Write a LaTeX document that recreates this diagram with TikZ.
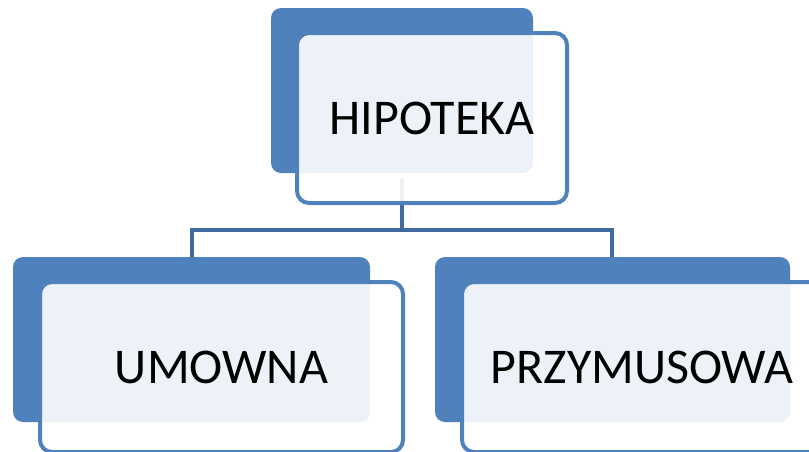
\documentclass[tikz,border=0pt]{standalone}
\usepackage{fontspec}
\setmainfont{Carlito}
\definecolor{accent}{RGB}{79,129,189}
\definecolor{linkc}{RGB}{64,106,158}
\tikzset{
  backbox/.style={draw=none, fill=accent, rounded corners=10pt, inner sep=0pt},
  frontbox/.style={draw=accent, line width=4pt, fill=white, fill opacity=0.9, draw opacity=1,
    rounded corners=12pt, inner sep=0pt},
  label/.style={font=\fontsize{50}{60}\selectfont, inner sep=0pt, text=black},
  link/.style={draw=linkc, line width=4.5pt}
}
\begin{document}
\begin{tikzpicture}[x=1pt, y=-1pt]
  \useasboundingbox (0,0) rectangle (809,451);
  \clip (0,0) rectangle (809,451);
  % connectors (drawn first, so the boxes sit on top)
  \coordinate (stem) at (402,179);
  \coordinate (bar) at (402,230);
  \coordinate (lj) at (192,230);
  \coordinate (rj) at (612,230);
  \coordinate (ld) at (192,257);
  \coordinate (rd) at (612,257);
  \draw[link] (stem) -- (bar);
  \draw[link] (ld) -- (lj) -- (rj) -- (rd);
  % top box
  \node[backbox, minimum width=262pt, minimum height=165pt] (topback) at (402,90.5) {};
  \node[frontbox, minimum width=270pt, minimum height=170pt] (topfront) at (432,118) {};
  \node[label] (toptext) at (topfront.center) {HIPOTEKA};
  % left box
  \node[backbox, minimum width=357pt, minimum height=165pt] (leftback) at (191.5,339.5) {};
  \node[frontbox, minimum width=363pt, minimum height=170pt] (leftfront) at (221.5,367) {};
  \node[label] (lefttext) at (leftfront.center) {UMOWNA};
  % right box
  \node[backbox, minimum width=355pt, minimum height=165pt] (rightback) at (612.5,339.5) {};
  \node[frontbox, minimum width=363pt, minimum height=170pt] (rightfront) at (643.5,367) {};
  \node[label] (righttext) at (642,367) {PRZYMUSOWA};
\end{tikzpicture}
\end{document}
